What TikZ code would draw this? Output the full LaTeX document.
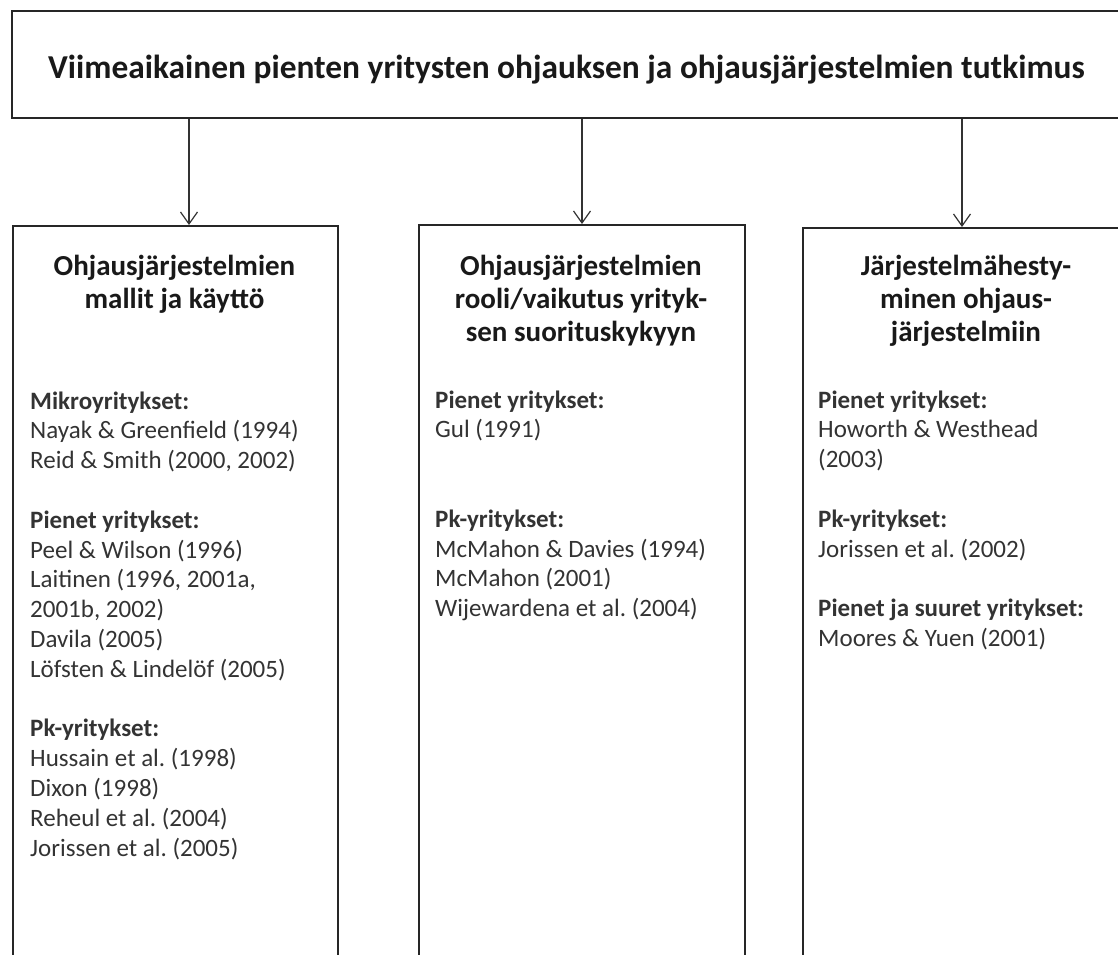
\documentclass[tikz,border=0pt]{standalone}
\usepackage{fontspec}
\setmainfont{Carlito}
\usetikzlibrary{arrows.meta}
\frenchspacing

\tikzset{
  box/.style={draw=black!85,line width=1.6pt,inner sep=0pt},
  arr/.style={draw=black!80,line width=1.2pt,-{Straight Barb[length=12pt,width=17pt]}},
  head/.style={font=\fontsize{29}{33}\selectfont\bfseries,text=black!90,align=center,anchor=base,inner sep=0pt},
  lst/.style={font=\fontsize{25}{29.8}\selectfont,text=black!80,align=left,anchor=base west,inner sep=0pt},
}

\begin{document}
\begin{tikzpicture}[x=1pt,y=-1pt]
    \useasboundingbox (0,0) rectangle (1118,954);
    % top box
    \node[box,minimum width=1111pt,minimum height=107pt,anchor=north west](top)at(11,10){};
    \node[font=\fontsize{33.4}{40}\selectfont\bfseries,text=black!90,anchor=base,inner sep=0pt](title)at(566.5,78)
      {Viimeaikainen pienten yritysten ohjauksen ja ohjausjärjestelmien tutkimus};
    % columns
    \node[box,minimum width=325pt,minimum height=760pt,anchor=north west](c1)at(12,225){};
    \node[box,minimum width=326pt,minimum height=760pt,anchor=north west](c2)at(418,224){};
    \node[box,minimum width=328pt,minimum height=760pt,anchor=north west](c3)at(802,227){};
    % arrows
    \coordinate(a1)at(189,0);
    \coordinate(a2)at(582,0);
    \coordinate(a3)at(962,0);
    \draw[arr](top.south -| a1)--(c1.north -| a1);
    \draw[arr](top.south -| a2)--(c2.north -| a2);
    \draw[arr](top.south -| a3)--(c3.north -| a3);
    % headings (anchored at the last line)
    \node[head](h1)at(174.5,308){Ohjausjärjestelmien\\mallit ja käyttö};
    \node[head](h2)at(581,341){Ohjausjärjestelmien\\rooli/vaikutus yrityk-\\sen suorituskykyyn};
    \node[head](h3)at(966,341){Järjestelmähesty-\\minen ohjaus-\\järjestelmiin};
    % lists (anchored at the last line)
    \node[lst](l1)at(30,856){\textbf{Mikroyritykset:}\\Nayak \& Greenfield (1994)\\Reid \& Smith (2000, 2002)\\[29.8pt]
      \textbf{Pienet yritykset:}\\Peel \& Wilson (1996)\\Laitinen (1996, 2001a,\\2001b, 2002)\\Davila (2005)\\Löfsten \& Lindelöf (2005)\\[29.8pt]
      \textbf{Pk-yritykset:}\\Hussain et al. (1998)\\Dixon (1998)\\Reheul et al. (2004)\\Jorissen et al. (2005)};
    \node[lst](l2)at(435,616.6){\textbf{Pienet yritykset:}\\Gul (1991)\\[59.6pt]
      \textbf{Pk-yritykset:}\\McMahon \& Davies (1994)\\McMahon (2001)\\Wijewardena et al. (2004)};
    \node[lst](l3)at(818,646.4){\textbf{Pienet yritykset:}\\Howorth \& Westhead\\(2003)\\[29.8pt]
      \textbf{Pk-yritykset:}\\Jorissen et al. (2002)\\[29.8pt]
      \textbf{Pienet ja suuret yritykset:}\\Moores \& Yuen (2001)};
\end{tikzpicture}
\end{document}
